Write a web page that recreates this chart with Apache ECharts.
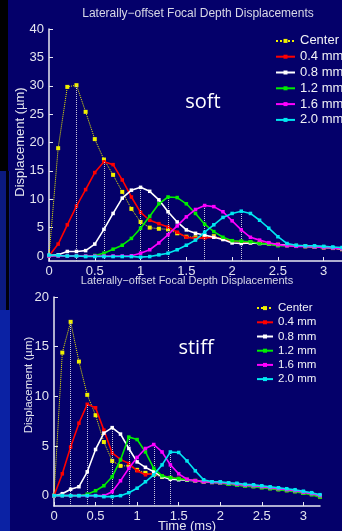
<!DOCTYPE html>
<html>
<head>
<meta charset="utf-8">
<script src="https://cdn.jsdelivr.net/npm/echarts@6/dist/echarts.min.js"></script>
<style>
html,body{margin:0;padding:0;background:#04006a;}
#c{width:342px;height:531px;}
</style>
</head>
<body>
<div id="c"></div>
<script>
var seriesNames = ['Center', '0.4 mm', '0.8 mm', '1.2 mm', '1.6 mm', '2.0 mm'];
var seriesColors = ['#f0f000', '#ff0000', '#ffffff', '#00ee00', '#ff00ff', '#00e8f0'];

var timeMs = [0, 0.1, 0.2, 0.3, 0.4, 0.5, 0.6, 0.7, 0.8, 0.9, 1.0, 1.1, 1.2, 1.3, 1.4, 1.5, 1.6,
              1.7, 1.8, 1.9, 2.0, 2.1, 2.2, 2.3, 2.4, 2.5, 2.6, 2.7, 2.8, 2.9, 3.0, 3.1, 3.2];

// soft (top panel), displacement in µm
var softCenter = [0, 19.0, 29.8, 30.1, 25.4, 20.6, 17.0, 14.3, 11.3, 8.3, 6.0, 5.0, 4.8, 4.7, 4.0, 3.4, 3.3,
                  3.4, 3.5, 3.0, 2.6, 2.5, 2.4, 2.3, 2.2, 2.0, 1.9, 1.8, 1.7, 1.6, 1.5, 1.4, 1.2];
var soft04 = [0, 2.1, 5.5, 8.8, 11.7, 14.7, 16.6, 16.1, 13.4, 10.4, 7.7, 6.3, 5.7, 5.1, 4.2, 3.3, 3.1,
              3.2, 3.3, 3.0, 2.6, 2.5, 2.4, 2.3, 2.1, 2.0, 1.9, 1.8, 1.7, 1.6, 1.5, 1.4, 1.2];
var soft08 = [0.1, 0.2, 0.8, 0.8, 0.95, 2.1, 4.7, 7.5, 10.2, 11.6, 12.1, 11.4, 9.9, 7.8, 6.0, 4.6, 4.0,
              3.7, 3.3, 2.9, 2.3, 2.2, 2.3, 2.2, 2.1, 2.0, 1.9, 1.8, 1.7, 1.6, 1.5, 1.4, 1.2];
var soft12 = [0, 0, 0, 0, 0, 0.1, 0.5, 1.2, 1.9, 3.1, 4.9, 7.0, 9.2, 10.4, 10.3, 9.2, 7.5,
              5.6, 4.3, 3.3, 2.7, 2.6, 2.5, 2.2, 2.1, 1.8, 1.8, 1.8, 1.7, 1.6, 1.5, 1.4, 1.3];
var soft16 = [0, 0, 0, 0, 0, 0, 0, 0, 0, 0.05, 0.5, 1.1, 2.3, 3.75, 5.3, 6.9, 8.2,
              8.9, 8.7, 7.8, 6.2, 4.6, 3.3, 2.8, 2.35, 2.0, 1.8, 1.7, 1.7, 1.6, 1.5, 1.4, 1.3];
var soft20 = [0.15, 0.1, 0, 0, -0.1, -0.1, -0.1, -0.1, -0.1, -0.1, -0.2, -0.1, 0.2, 0.5, 1.1, 1.9, 2.8,
              4.2, 5.5, 6.8, 7.5, 7.9, 7.5, 6.3, 4.9, 3.4, 2.2, 1.9, 1.8, 1.8, 1.7, 1.6, 1.5];

// stiff (bottom panel)
var stiffCenter = [0, 14.4, 17.5, 13.5, 10.15, 8.1, 5.4, 3.5, 3.0, 3.0, 2.6, 2.3, 2.1, 1.9, 1.8, 1.7, 1.6,
                   1.5, 1.4, 1.35, 1.3, 1.2, 1.15, 1.05, 0.95, 0.85, 0.75, 0.65, 0.55, 0.45, 0.3, 0.15, -0.1];
var stiff04 = [0, 2.2, 4.9, 7.3, 9.2, 8.85, 6.6, 4.3, 3.65, 3.25, 2.5, 2.1, 2.25, 2.0, 1.8, 1.7, 1.6,
               1.5, 1.4, 1.35, 1.3, 1.2, 1.1, 1.0, 0.95, 0.85, 0.75, 0.65, 0.55, 0.45, 0.3, 0.15, -0.1];
var stiff08 = [0, 0.2, 0.65, 0.9, 2.4, 4.65, 6.3, 6.85, 6.2, 4.75, 3.4, 2.85, 2.4, 1.9, 1.65, 1.6, 1.55,
               1.5, 1.4, 1.35, 1.3, 1.2, 1.1, 1.0, 0.95, 0.85, 0.75, 0.65, 0.55, 0.45, 0.3, 0.2, 0.0];
var stiff12 = [0, 0, 0, 0, 0.15, 0.5, 1.0, 1.9, 3.6, 5.9, 5.65, 4.4, 2.75, 2.0, 1.8, 1.7, 1.6,
               1.5, 1.4, 1.35, 1.25, 1.15, 1.05, 0.95, 0.9, 0.8, 0.7, 0.6, 0.5, 0.4, 0.25, 0.1, -0.15];
var stiff16 = [0, 0, 0, 0, 0, 0, 0, 0.4, 1.5, 2.75, 3.85, 4.75, 5.15, 4.4, 3.1, 2.2, 1.65,
               1.5, 1.4, 1.35, 1.3, 1.25, 1.15, 1.05, 1.0, 0.9, 0.8, 0.7, 0.6, 0.5, 0.35, 0.2, 0.0];
var stiff20 = [0, 0, 0, 0, 0, 0, -0.1, -0.1, 0, 0.3, 0.75, 1.4, 2.1, 3.1, 4.4, 4.35, 3.5,
               2.5, 1.6, 1.4, 1.4, 1.3, 1.25, 1.15, 1.1, 1.0, 0.9, 0.8, 0.7, 0.6, 0.45, 0.3, 0.1];

var xTicks = [0, 0.5, 1, 1.5, 2, 2.5, 3];
var yTicksSoft = [0, 5, 10, 15, 20, 25, 30, 35, 40];
var yTicksStiff = [0, 5, 10, 15, 20];

var softData = [softCenter, soft04, soft08, soft12, soft16, soft20];
var stiffData = [stiffCenter, stiff04, stiff08, stiff12, stiff16, stiff20];

var Y_MIN_SOFT = -0.88, Y_MIN_STIFF = -1.04;
var FONT = 'Liberation Sans, Arial, Helvetica, sans-serif';
var TXT = '#e4e4ee';

function argmax(a) { var k = 0; for (var i = 1; i < a.length; i++) if (a[i] > a[k]) k = i; return k; }

function makeSeries(data, gi, yMin) {
  return data.map(function (vals, si) {
    var k = argmax(vals);
    var isC = si === 0;
    return {
      name: seriesNames[si], type: 'line', xAxisIndex: gi, yAxisIndex: gi,
      data: timeMs.map(function (t, i) { return [t, vals[i]]; }),
      symbol: 'rect', symbolSize: isC ? 4 : 3.5, showAllSymbol: true,
      color: seriesColors[si],
      lineStyle: { color: seriesColors[si], width: isC ? 1 : 1.6, type: isC ? 'dotted' : 'solid' },
      itemStyle: { color: seriesColors[si] },
      clip: true, z: 3 + si,
      markLine: {
        silent: true, symbol: ['none', 'none'], label: { show: false }, animation: false,
        lineStyle: { color: '#c8c8dc', type: 'dotted', width: 1 },
        emphasis: { disabled: true },
        data: [[{ coord: [timeMs[k], yMin] }, { coord: [timeMs[k], vals[k]] }]]
      }
    };
  });
}

function xAx(gi) {
  return {
    gridIndex: gi, type: 'value', min: 0, max: 3.2,
    axisLine: { onZero: false, lineStyle: { color: '#e8e8f2', width: 1.5 } },
    axisTick: { inside: true, length: 4, customValues: xTicks, lineStyle: { color: '#e8e8f2' } },
    axisLabel: { customValues: xTicks, color: TXT, fontSize: 13, fontFamily: FONT, margin: 4 },
    splitLine: { show: false }
  };
}
function yAx(gi, ticks, yMin, yMax) {
  return {
    gridIndex: gi, type: 'value', min: yMin, max: yMax,
    axisLine: { show: true, onZero: false, lineStyle: { color: '#e8e8f2', width: 1.5 } },
    axisTick: { show: true, inside: true, length: 4, customValues: ticks, lineStyle: { color: '#e8e8f2' } },
    axisLabel: { customValues: ticks, color: TXT, fontSize: 13, fontFamily: FONT, margin: 5 },
    splitLine: { show: false }
  };
}

function legend(left, top, fs, lh, iw) {
  return {
    orient: 'vertical', left: left, top: top, padding: 0, itemGap: 0,
    itemWidth: iw, itemHeight: 5, selectedMode: false, data: seriesNames,
    textStyle: { color: '#f2f2f6', fontSize: fs, lineHeight: lh, fontFamily: FONT }
  };
}

var chart = echarts.init(document.getElementById('c'), null, { renderer: 'canvas' });
chart.setOption({
  backgroundColor: '#04006a',
  animation: false,
  graphic: [
    { type: 'rect', shape: { x: 0, y: 0, width: 8, height: 171 }, style: { fill: '#000000' }, z: -10 },
    { type: 'rect', shape: { x: 0, y: 171, width: 10, height: 139 }, style: { fill: '#0b1a80' }, z: -10 },
    { type: 'rect', shape: { x: 0, y: 310, width: 10, height: 221 }, style: { fill: '#0b22a4' }, z: -10 },
    { type: 'rect', shape: { x: 6, y: 171, width: 3, height: 139 }, style: { fill: '#00000c' }, z: -9 },
    { type: 'text', x: 198, y: 14, style: { text: 'Laterally\u2212offset Focal Depth Displacements', fill: '#d8d8e6', font: '12px ' + FONT, textAlign: 'center', textVerticalAlign: 'middle' } },
    { type: 'text', x: 187, y: 281, style: { text: 'Laterally\u2212offset Focal Depth Displacements', fill: '#d8d8e6', font: '11px ' + FONT, textAlign: 'center', textVerticalAlign: 'middle' } },
    { type: 'text', x: 20, y: 142, rotation: Math.PI / 2, style: { text: 'Displacement (\u00b5m)', fill: TXT, font: '13px ' + FONT, textAlign: 'center', textVerticalAlign: 'middle' } },
    { type: 'text', x: 29, y: 385, rotation: Math.PI / 2, style: { text: 'Displacement (\u00b5m)', fill: TXT, font: '11.5px ' + FONT, textAlign: 'center', textVerticalAlign: 'middle' } },
    { type: 'text', x: 187, y: 526, style: { text: 'Time (ms)', fill: TXT, font: '13px ' + FONT, textAlign: 'center', textVerticalAlign: 'middle' } },
    { type: 'text', x: 203, y: 102, style: { text: 'soft', fill: '#ffffff', font: '20px "Open Sans", "Noto Sans", sans-serif', textAlign: 'center', textVerticalAlign: 'middle' } },
    { type: 'text', x: 196, y: 348, style: { text: 'stiff', fill: '#ffffff', font: '20px "Open Sans", "Noto Sans", sans-serif', textAlign: 'center', textVerticalAlign: 'middle' } }
  ],
  grid: [
    { left: 49, top: 29, width: 298, height: 232 },
    { left: 54, top: 297, width: 266, height: 209 }
  ],
  xAxis: [xAx(0), xAx(1)],
  yAxis: [yAx(0, yTicksSoft, Y_MIN_SOFT, 40), yAx(1, yTicksStiff, Y_MIN_STIFF, 20)],
  legend: [legend(275, 33, 13, 15.8, 19), legend(256, 301, 11.5, 14.2, 16)],
  series: makeSeries(softData, 0, Y_MIN_SOFT).concat(makeSeries(stiffData, 1, Y_MIN_STIFF))
});
</script>
</body>
</html>
